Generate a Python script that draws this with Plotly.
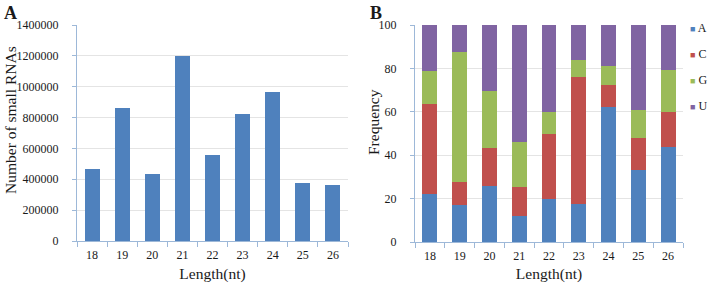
import plotly.graph_objects as go

lengths = ["18", "19", "20", "21", "22", "23", "24", "25", "26"]
counts = [467000, 859000, 437000, 1196000, 558000, 824000, 967000, 376000, 361000]

bases = ["A", "C", "G", "U"]
freq_A = [22.2, 17.2, 25.6, 12.0, 19.6, 17.5, 62.4, 33.1, 44.0]
freq_C = [41.3, 10.3, 17.5, 13.5, 30.4, 58.6, 9.8, 14.9, 16.0]
freq_G = [15.3, 60.2, 26.5, 20.7, 10.0, 7.9, 8.9, 13.0, 19.4]
freq_U = [21.2, 12.3, 30.4, 53.8, 40.0, 16.0, 18.9, 39.0, 20.6]
base_colors = ["#4F81BD", "#C0504D", "#9BBB59", "#8064A2"]

W, H = 709, 283
FONT = "Liberation Serif"
TXT = "#1a1a1a"
AXC = "#9DB8D8"
GRID = "#E4E4E4"
TICK_SIZE = 12
TITLE_SIZE = 15.5

fig = go.Figure()
fig.add_trace(go.Bar(x=lengths, y=counts, marker_color="#4F81BD", marker_line_width=0,
                     xaxis="x", yaxis="y", showlegend=False))
for name, vals, col in zip(bases, [freq_A, freq_C, freq_G, freq_U], base_colors):
    fig.add_trace(go.Bar(x=lengths, y=vals, name=name, marker_color=col, marker_line_width=0,
                         xaxis="x2", yaxis="y2", showlegend=False))

def px_x(p):
    return p / W

def px_y(p):
    return 1 - p / H

axis_common = dict(showline=True, linecolor=AXC, linewidth=1, automargin=False,
                   tickfont=dict(family=FONT, size=TICK_SIZE, color=TXT),
                   title_font=dict(family=FONT, size=TITLE_SIZE, color=TXT))
xaxis_common = dict(type="category", ticks="outside", ticklen=5, tickcolor=AXC,
                    tickson="boundaries", ticklabelstandoff=3,
                    title=dict(text="Length(nt)", standoff=6), **axis_common)
yaxis_common = dict(ticks="outside", ticklen=4, tickcolor=AXC, ticklabelstandoff=11,
                    showgrid=True, gridcolor=GRID, zeroline=False, **axis_common)

fig.update_layout(
    width=W, height=H, margin=dict(l=0, r=0, t=0, b=0, autoexpand=False),
    paper_bgcolor="white", plot_bgcolor="white",
    barmode="stack", bargap=0.5,
    xaxis=dict(domain=[px_x(77), px_x(348)], anchor="y", **xaxis_common),
    yaxis=dict(domain=[px_y(241), px_y(25)], anchor="x", range=[0, 1400000], dtick=200000,
               tickformat="d", **yaxis_common),
    xaxis2=dict(domain=[px_x(415), px_x(683)], anchor="y2", **xaxis_common),
    yaxis2=dict(domain=[px_y(242), px_y(25)], anchor="x2", range=[0, 100], dtick=20,
                **yaxis_common),
)

annotations = [
    dict(text="<b>A</b>", x=px_x(2), y=px_y(1), xref="paper", yref="paper",
         xanchor="left", yanchor="top", showarrow=False,
         font=dict(family=FONT, size=18, color=TXT)),
    dict(text="<b>B</b>", x=px_x(368), y=px_y(1), xref="paper", yref="paper",
         xanchor="left", yanchor="top", showarrow=False,
         font=dict(family=FONT, size=18, color=TXT)),
    dict(text="Number of small RNAs", x=px_x(10), y=px_y(120), xref="paper", yref="paper",
         xanchor="center", yanchor="middle", textangle=-90, showarrow=False,
         font=dict(family=FONT, size=TITLE_SIZE, color=TXT)),
    dict(text="Frequency", x=px_x(374), y=px_y(122), xref="paper", yref="paper",
         xanchor="center", yanchor="middle", textangle=-90, showarrow=False,
         font=dict(family=FONT, size=TITLE_SIZE, color=TXT)),
]
for i, (name, col) in enumerate(zip(bases, base_colors)):
    annotations.append(dict(
        text=f"<span style='color:{col};font-size:9px'>■</span> {name}",
        x=px_x(688), y=px_y(28 + 26 * i), xref="paper", yref="paper",
        xanchor="left", yanchor="middle", showarrow=False,
        font=dict(family=FONT, size=TICK_SIZE, color=TXT)))
fig.update_layout(annotations=annotations)

fig.write_html("out.html", config={"displayModeBar": False},
               post_script="document.body.style.margin='0';document.body.style.padding='0';")
